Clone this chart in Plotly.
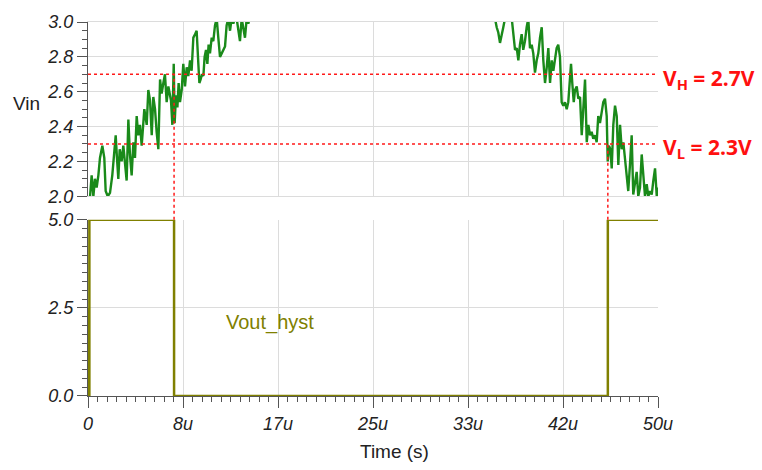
import plotly.graph_objects as go

# ---------------- data (time in microseconds, volts) ----------------
t_rise = [0.18, 0.32, 0.47, 0.61, 0.76, 0.91, 1.05, 1.26, 1.43, 1.55,
          1.73, 1.93, 2.13, 2.31, 2.43, 2.54, 2.66, 2.78, 2.95, 3.10,
          3.25, 3.39, 3.54, 3.68, 3.83, 3.98, 4.12, 4.27, 4.41, 4.56,
          4.71, 4.94, 5.15, 5.29, 5.44, 5.59, 5.73, 5.88, 6.02, 6.17,
          6.32, 6.46, 6.61, 6.75, 6.90, 7.05, 7.28, 7.40, 7.52,
          7.60, 7.72, 7.84, 7.95, 8.07, 8.22, 8.36, 8.51, 8.66, 8.80,
          8.95, 9.09, 9.24, 9.39, 9.53, 9.68, 9.77, 9.88, 10.00, 10.12,
          10.23, 10.35, 10.47, 10.58, 10.70, 10.85, 10.99, 11.14, 11.29, 11.43,
          11.58, 11.73, 11.87, 12.02, 12.16, 12.31, 12.46, 12.60, 12.75, 12.89,
          13.04, 13.19, 13.33, 13.48, 13.63, 13.77, 13.92, 14.06, 14.21, 14.36]
v_rise = [2.00, 2.12, 2.00, 2.10, 2.05, 2.12, 2.22, 2.29, 2.22, 2.03,
          2.00, 2.02, 2.12, 2.24, 2.35, 2.22, 2.10, 2.27, 2.20, 2.29,
          2.16, 2.09, 2.44, 2.24, 2.12, 2.31, 2.22, 2.46, 2.35, 2.41,
          2.29, 2.50, 2.41, 2.61, 2.55, 2.35, 2.57, 2.50, 2.37, 2.27,
          2.67, 2.59, 2.65, 2.70, 2.54, 2.63, 2.55, 2.41, 2.76,
          2.42, 2.58, 2.51, 2.65, 2.54, 2.61, 2.76, 2.63, 2.74, 2.69,
          2.78, 2.72, 2.91, 2.93, 2.95, 2.76, 2.65, 2.67, 2.70, 2.69,
          2.80, 2.84, 2.76, 2.87, 2.82, 2.91, 2.89, 2.98, 3.02, 2.91,
          2.80, 2.82, 2.84, 2.86, 2.98, 3.02, 2.95, 3.02, 2.99, 3.03,
          3.02, 2.95, 2.89, 3.02, 2.96, 2.91, 3.02, 2.99, 3.03, 3.02]

# portion above the visible range (clipped in the picture)
t_top = [15.5, 18.0, 21.0, 25.0, 29.0, 32.0, 34.8]
v_top = [3.08, 3.15, 3.20, 3.22, 3.20, 3.14, 3.06]

t_fall = [35.70, 35.85, 35.99, 36.14, 36.29, 36.43, 36.58, 36.87, 37.17, 37.31,
          37.46, 37.61, 37.75, 37.89, 38.04, 38.18, 38.33, 38.48, 38.62, 38.77,
          38.92, 39.06, 39.21, 39.36, 39.50, 39.65, 39.80, 39.94, 40.09, 40.24,
          40.38, 40.53, 40.68, 40.82, 40.96, 41.11, 41.25, 41.40, 41.55, 41.69,
          41.84, 41.99, 42.13, 42.28, 42.37, 42.48, 42.61, 42.72, 42.87, 43.01,
          43.16, 43.31, 43.45, 43.60, 43.75, 43.89, 44.04, 44.18, 44.32, 44.47,
          44.62, 44.76, 44.91, 45.06, 45.20, 45.35, 45.50, 45.59, 45.70, 45.82,
          45.94, 46.08, 46.23, 46.38, 46.52, 46.67, 46.82, 46.96, 47.11, 47.25,
          47.39, 47.54, 47.69, 47.83, 47.98, 48.13, 48.27, 48.42, 48.57, 48.71,
          48.86, 49.01, 49.15, 49.30, 49.45, 49.59, 49.74, 49.89, 49.97]
v_fall = [3.02, 2.97, 2.94, 2.88, 2.92, 2.97, 3.02, 3.06, 3.02, 2.91,
          2.84, 2.85, 2.78, 2.87, 2.93, 2.84, 2.89, 2.97, 3.02, 2.85,
          2.87, 2.82, 2.71, 2.78, 2.82, 2.91, 2.97, 2.78, 2.65, 2.74,
          2.85, 2.65, 2.78, 2.72, 2.80, 2.85, 2.87, 2.80, 2.54, 2.52,
          2.54, 2.50, 2.54, 2.70, 2.76, 2.65, 2.54, 2.61, 2.63, 2.56,
          2.57, 2.35, 2.50, 2.67, 2.31, 2.41, 2.35, 2.37, 2.33, 2.35,
          2.31, 2.46, 2.42, 2.50, 2.54, 2.56, 2.46, 2.20, 2.29, 2.27,
          2.16, 2.41, 2.52, 2.46, 2.18, 2.41, 2.27, 2.31, 2.22, 2.12,
          2.03, 2.18, 2.35, 2.01, 2.09, 2.14, 2.00, 2.05, 2.24, 2.12,
          2.00, 2.07, 2.00, 2.03, 2.01, 2.09, 2.16, 2.00, 2.05]

t_out = [0.0, 0.01, 0.12, 0.12, 7.55, 7.55, 45.6, 45.6, 50.0]
v_out = [2.5, 0.0, 0.0, 5.0, 5.0, 0.0, 0.0, 5.0, 5.0]

v_high = 2.7
v_low = 2.3
t_switch_low = 7.55
t_switch_high = 45.6

x_tickvals = [0, 25 / 3, 50 / 3, 25, 100 / 3, 125 / 3, 50]
x_ticktext = ["0", "8u", "17u", "25u", "33u", "42u", "50u"]

# ---------------- figure ----------------
W, H = 762, 470
ml, mr, mt, mb = 88, 104, 14, 74
ph = H - mt - mb
top_dom = [(396 - 192) / ph, 1.0]
bot_dom = [0.0, (396 - 216) / ph]

FONT = "Liberation Sans, Arial, sans-serif"
GREEN = "#1a8a1a"
OLIVE = "#808000"
GRID = "#dcdcdc"
AX = "#555555"

t_vin = t_rise + t_top + t_fall
v_vin = v_rise + v_top + v_fall

fig = go.Figure()
fig.add_trace(go.Scatter(x=t_vin, y=v_vin, mode="lines", line=dict(color=GREEN, width=2.4),
                         xaxis="x", yaxis="y", showlegend=False))
fig.add_trace(go.Scatter(x=t_out, y=v_out, mode="lines", line=dict(color=OLIVE, width=2.5),
                         xaxis="x2", yaxis="y2", showlegend=False))

tickfont = dict(family=FONT, size=18, color="#222222", style="italic")

fig.update_layout(
    width=W, height=H,
    margin=dict(l=ml, r=mr, t=mt, b=mb),
    paper_bgcolor="white", plot_bgcolor="white",
    font=dict(family=FONT, size=18, color="#222222"),
    xaxis=dict(domain=[0, 1], anchor="y", range=[0, 50], tickmode="array",
               tickvals=x_tickvals, ticktext=x_ticktext, showticklabels=False,
               ticks="", showgrid=True, gridcolor=GRID, gridwidth=1,
               showline=True, linecolor=GRID, mirror=True, zeroline=False),
    yaxis=dict(domain=top_dom, anchor="x", range=[2.0, 3.0], tickmode="linear",
               tick0=2.0, dtick=0.2, tickformat=".1f", tickfont=tickfont,
               ticks="outside", ticklen=10, tickcolor=AX, showline=True,
               linecolor=AX, showgrid=True, gridcolor=GRID, zeroline=False,
               minor=dict(dtick=0.05, tick0=2.0, ticklen=5, tickcolor=AX,
                          ticks="outside", showgrid=False)),
    xaxis2=dict(domain=[0, 1], anchor="y2", range=[0, 50], tickmode="array",
                tickvals=x_tickvals, ticktext=x_ticktext, tickfont=tickfont,
                ticks="outside", ticklen=11, tickcolor=AX, showline=True,
                linecolor=AX, showgrid=True, gridcolor=GRID, zeroline=False,
                minor=dict(tickmode="linear", tick0=0, dtick=50 / 60, ticklen=5,
                           tickcolor=AX, ticks="outside", showgrid=False)),
    yaxis2=dict(domain=bot_dom, anchor="x2", range=[0, 5], tickmode="array",
                tickvals=[0, 2.5, 5], ticktext=["0.0", "2.5", "5.0"],
                tickfont=tickfont, ticks="outside", ticklen=10, tickcolor=AX,
                showline=True, linecolor=AX, showgrid=True, gridcolor=GRID,
                zeroline=False,
                minor=dict(tickmode="linear", tick0=0, dtick=0.25, ticklen=5,
                           tickcolor=AX, ticks="outside", showgrid=False)),
)

# threshold lines
for lvl in (v_high, v_low):
    fig.add_shape(type="line", xref="x", yref="y", x0=0, x1=50, y0=lvl, y1=lvl,
                  line=dict(color="#ff1a1a", width=1.5, dash="dot"), layer="above")


def top_paper(v):
    return top_dom[0] + (v - 2.0) / 1.0 * (top_dom[1] - top_dom[0])


for ts, lvl in ((t_switch_low, v_high), (t_switch_high, v_low)):
    fig.add_shape(type="line", xref="x", yref="paper", x0=ts, x1=ts,
                  y0=bot_dom[1], y1=top_paper(lvl),
                  line=dict(color="#ff1a1a", width=1.5, dash="dot"), layer="above")

red_font = dict(family="Open Sans, Liberation Sans, sans-serif", size=21, color="#ff1010", weight="bold")
fig.add_annotation(xref="paper", yref="y", x=(661 - ml) / (W - ml - mr), y=v_high,
                   xanchor="left", yanchor="middle", yshift=-5, showarrow=False,
                   text="V<sub>H</sub> = 2.7V", font=red_font)
fig.add_annotation(xref="paper", yref="y", x=(661 - ml) / (W - ml - mr), y=v_low,
                   xanchor="left", yanchor="middle", yshift=-4, showarrow=False,
                   text="V<sub>L</sub> = 2.3V", font=red_font)

fig.add_annotation(xref="paper", yref="paper", x=(26 - ml) / (W - ml - mr),
                   y=(396 - 97) / ph, xanchor="center", yanchor="middle",
                   showarrow=False, text="Vin", font=dict(family=FONT, size=19, color="#222222"))
fig.add_annotation(xref="paper", yref="paper", x=(394 - ml) / (W - ml - mr),
                   y=(396 - 453) / ph, xanchor="center", yanchor="middle",
                   showarrow=False, text="Time (s)", font=dict(family=FONT, size=19, color="#222222"))
fig.add_annotation(xref="x2", yref="y2", x=(270 - ml) / 11.4, y=5 - (321 - 216) / 36,
                   xanchor="center", yanchor="middle", showarrow=False,
                   text="Vout_hyst", font=dict(family=FONT, size=20, color=OLIVE))

fig.write_html("out.html")
